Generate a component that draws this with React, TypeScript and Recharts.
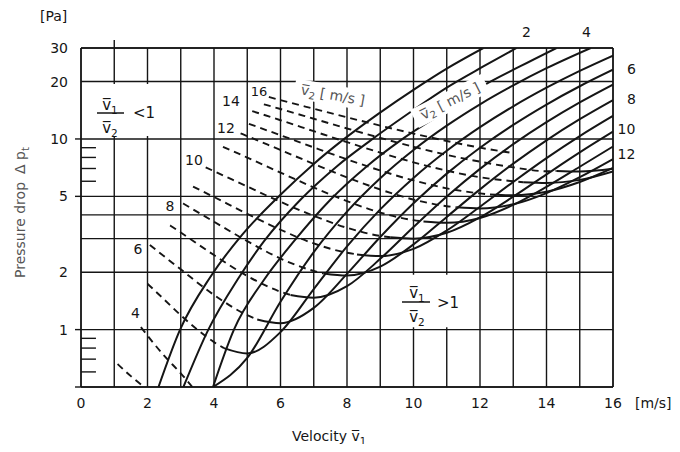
import React from "react";
import {
  LineChart,
  Line,
  XAxis,
  YAxis,
  CartesianGrid,
  ReferenceLine,
  ReferenceArea,
} from "recharts";

const FONT = "'DejaVu Sans', 'Liberation Sans', sans-serif";
const INK = "#151515";
const GREY = "#555";
const W = 664;
const H = 436;

// axis ticks
const v1Ticks = [0, 1, 2, 3, 4, 5, 6, 7, 8, 9, 10, 11, 12, 13, 14, 15, 16];
const v1Labels = [0, 2, 4, 6, 8, 10, 12, 14, 16];
const dpTicks = [0.5, 1, 2, 3, 4, 5, 10, 20, 30];
const dpLabels = [1, 2, 5, 10, 20, 30];
const dpMinor = [0.6, 0.7, 0.8, 0.9, 6, 7, 8, 9];
const dpTickMarks = [0.5, 1, 5, 10];

type P = [number, number];

// solid curves (v1 > v2), parameter v2 [m/s]
const solid1: P[] = [[2.33, 0.5], [2.98, 1], [3.9, 1.9], [4.85, 3.15], [6.0, 5.1], [7.0, 7.4], [7.85, 9.8], [8.93, 13.5], [10.1, 18.6], [11.0, 23.4], [12.1, 30]];
const solid2: P[] = [[3.08, 0.5], [3.83, 1], [4.7, 1.82], [5.5, 2.9], [6.6, 4.8], [7.7, 7.2], [8.7, 9.8], [9.9, 13.8], [11.0, 18.6], [12.1, 24], [13.1, 30]];
const solid3: P[] = [[3.97, 0.5], [4.6, 1], [5.5, 1.82], [6.4, 2.9], [7.5, 4.8], [8.6, 7.2], [9.6, 9.8], [10.9, 13.8], [12.0, 18.6], [13.2, 24], [14.3, 30]];
const solid4: P[] = [[3.97, 0.5], [5, 0.71], [6, 1.4], [7, 2.55], [8, 4.16], [9, 6.23], [10, 8.76], [11, 11.75], [12, 15.2], [13, 19.1], [14, 23.5], [15.33, 30]];
const solid5: P[] = [[4.3, 0.8], [5, 0.75], [6, 0.97], [7, 1.63], [8, 2.73], [9, 4.27], [10, 6.25], [11, 8.67], [12, 11.53], [13, 14.83], [14, 18.57], [15, 22.75], [16, 27.37]];
const solid6: P[] = [[5.3, 1.13], [6, 1.08], [7, 1.3], [8, 1.96], [9, 3.06], [10, 4.6], [11, 6.58], [12, 9.0], [13, 11.86], [14, 15.16], [15, 18.9], [16, 23.08]];
const solid7: P[] = [[6.3, 1.52], [7, 1.47], [8, 1.69], [9, 2.35], [10, 3.45], [11, 4.99], [12, 6.97], [13, 9.39], [14, 12.25], [15, 15.55], [16, 19.29]];
const solid8: P[] = [[7.3, 1.97], [8, 1.92], [9, 2.14], [10, 2.8], [11, 3.9], [12, 5.44], [13, 7.42], [14, 9.84], [15, 12.7], [16, 16.0]];
const solid9: P[] = [[8.3, 2.48], [9, 2.43], [10, 2.65], [11, 3.31], [12, 4.41], [13, 5.95], [14, 7.93], [15, 10.35], [16, 13.21]];
const solid10: P[] = [[9.3, 3.05], [10, 3.0], [11, 3.22], [12, 3.88], [13, 4.98], [14, 6.52], [15, 8.5], [16, 10.92]];
const solid11: P[] = [[10.3, 3.69], [11, 3.63], [12, 3.85], [13, 4.51], [14, 5.61], [15, 7.15], [16, 9.13]];
const solid12: P[] = [[11.3, 4.38], [12, 4.32], [13, 4.54], [14, 5.2], [15, 6.3], [16, 7.84]];
const solid13: P[] = [[12.3, 5.12], [13, 5.07], [14, 5.29], [15, 5.95], [16, 7.05]];
const solid14: P[] = [[13.3, 5.93], [14, 5.88], [15, 6.1], [16, 6.76]];
const solid15: P[] = [[14.3, 6.8], [15, 6.75], [16, 6.97]];

// dashed curves (v1 < v2)
const dashed3: P[] = [[1.1, 0.66], [1.5, 0.57], [1.9, 0.5]];
const dashed4: P[] = [[1.8, 1.03], [2.5, 0.73], [3.0, 0.59], [3.35, 0.5]];
const dashed5: P[] = [[2.0, 1.74], [2.5, 1.44], [3.0, 1.19], [3.5, 1.0], [4.0, 0.86], [4.3, 0.8]];
const dashed6: P[] = [[2.07, 2.78], [3, 2.07], [4, 1.52], [5, 1.19], [5.3, 1.13]];
const dashed7: P[] = [[2.68, 3.52], [3, 3.23], [4, 2.46], [5, 1.91], [6, 1.58], [6.3, 1.52]];
const dashed8: P[] = [[3.07, 4.59], [4, 3.68], [5, 2.91], [6, 2.36], [7, 2.03], [7.3, 1.97]];
const dashed9: P[] = [[3.37, 5.63], [4, 4.96], [5, 4.05], [6, 3.34], [7, 2.83], [8, 2.53], [8.3, 2.48]];
const dashed10: P[] = [[3.75, 7.1], [4, 6.78], [5, 5.63], [6, 4.68], [7, 3.95], [8, 3.42], [9, 3.1], [9.3, 3.05]];
const dashed11: P[] = [[4.27, 9.1], [5, 7.99], [6, 6.66], [7, 5.57], [8, 4.72], [9, 4.11], [10, 3.75], [10.3, 3.69]];
const dashed12: P[] = [[4.8, 10.7], [5, 10.35], [6, 8.75], [7, 7.4], [8, 6.29], [9, 5.43], [10, 4.81], [11, 4.44], [11.3, 4.38]];
const dashed13: P[] = [[5.05, 12.0], [6, 10.46], [7, 9.03], [8, 7.82], [9, 6.83], [10, 6.06], [11, 5.51], [12, 5.18], [12.3, 5.12]];
const dashed14: P[] = [[5.15, 14.0], [6, 12.54], [7, 10.98], [8, 9.62], [9, 8.48], [10, 7.54], [11, 6.82], [12, 6.3], [13, 6.0], [13.3, 5.93]];
const dashed15: P[] = [[5.5, 15.2], [6, 14.36], [7, 12.77], [8, 11.35], [9, 10.13], [10, 9.1], [11, 8.25], [12, 7.6], [13, 7.1], [14, 6.77], [14.3, 6.8]];
const dashed16: P[] = [[5.65, 16.6], [6, 15.98], [7, 14.4], [8, 12.99], [9, 11.75], [10, 10.67], [11, 9.76], [12, 9.0], [13, 8.43]];

const solidSeries = [solid1, solid2, solid3, solid4, solid5, solid6, solid7, solid8, solid9, solid10, solid11, solid12, solid13, solid14, solid15];
const dashedSeries = [dashed3, dashed4, dashed5, dashed6, dashed7, dashed8, dashed9, dashed10, dashed11, dashed12, dashed13, dashed14, dashed15, dashed16];

const toPts = (a: P[]) => a.map(([x, y]) => ({ x, y }));

const T = ({ x, y, children, size = 14, anchor = "middle", fill = INK }: any) => (
  <text x={x} y={y} fontSize={size} textAnchor={anchor} fill={fill} fontFamily={FONT}>
    {children}
  </text>
);

const VBar = ({ x, y, sub, size = 15 }: any) => (
  <text x={x} y={y} fontSize={size} textAnchor="middle" fill={INK} fontFamily={FONT}>
    {"v\u0305"}
    <tspan dy={4} fontSize={size * 0.7}>{sub}</tspan>
  </text>
);

const RotLabel = ({ cx, cy, angle, w }: any) => (
  <g transform={`translate(${cx} ${cy}) rotate(${angle})`}>
    <rect x={-w / 2} y={-10} width={w} height={20} fill="#fff" />
    <text x={0} y={5} fontSize={14} textAnchor="middle" fill={GREY} fontFamily={FONT}>
      {"v\u0305"}
      <tspan dy={3} fontSize={10}>2</tspan>
      <tspan dy={-3}> [ m/s ]</tspan>
    </text>
  </g>
);

export default function App() {
  return (
    <div style={{ position: "relative", width: W, height: H, background: "#fff" }}>
      <LineChart width={W} height={H} margin={{ top: 40, right: 59, bottom: 27, left: 0 }}>
        <CartesianGrid stroke={INK} strokeWidth={1.4} />
        <XAxis
          type="number"
          dataKey="x"
          domain={[0, 16]}
          ticks={v1Ticks}
          interval={0}
          allowDataOverflow
          tickFormatter={(v: number) => (v1Labels.includes(v) ? String(v) : "")}
          axisLine={{ stroke: INK, strokeWidth: 1.4 }}
          tickLine={false}
          tickSize={6}
          tickMargin={5}
          height={30}
          tick={{ fill: INK, fontSize: 14, fontFamily: FONT }}
        />
        <YAxis
          type="number"
          scale="log"
          domain={[0.5, 30]}
          ticks={dpTicks}
          interval={0}
          allowDataOverflow
          tickFormatter={(v: number) => (dpLabels.includes(v) ? String(v) : "")}
          axisLine={{ stroke: INK, strokeWidth: 1.4 }}
          tickLine={false}
          tickSize={6}
          tickMargin={7}
          width={73}
          tick={{ fill: INK, fontSize: 14, fontFamily: FONT }}
        />
        <ReferenceLine x={16} stroke={INK} strokeWidth={1.4} />
        <ReferenceLine y={30} stroke={INK} strokeWidth={1.4} />
        <ReferenceArea x1={0.1} x2={2.8} y1={10.35} y2={19.4} fill="#fff" fillOpacity={1} stroke="none" />
        <ReferenceArea x1={9.08} x2={11.92} y1={1.03} y2={1.94} fill="#fff" fillOpacity={1} stroke="none" />
        {dpMinor.map((d) => (
          <ReferenceLine key={"m" + d} segment={[{ x: 0, y: d }, { x: 0.45, y: d }]} stroke={INK} strokeWidth={1.4} />
        ))}
        {dpTickMarks.map((d) => (
          <ReferenceLine key={"t" + d} ifOverflow="visible" segment={[{ x: -0.18, y: d }, { x: 0, y: d }]} stroke={INK} strokeWidth={1.4} />
        ))}
        <ReferenceLine ifOverflow="visible" segment={[{ x: 1, y: 30 }, { x: 1, y: 33 }]} stroke={INK} strokeWidth={1.4} />
        {dashedSeries.map((d, i) => (
          <Line
            key={"d" + i}
            data={toPts(d)}
            dataKey="y"
            type="monotone"
            stroke={INK}
            strokeWidth={1.9}
            strokeDasharray="7 5"
            dot={false}
            activeDot={false}
            isAnimationActive={false}
          />
        ))}
        {solidSeries.map((d, i) => (
          <Line
            key={"s" + i}
            data={toPts(d)}
            dataKey="y"
            type="monotone"
            stroke={INK}
            strokeWidth={2}
            dot={false}
            activeDot={false}
            isAnimationActive={false}
          />
        ))}
      </LineChart>
      <svg
        width={W}
        height={H + 8}
        style={{ position: "absolute", left: 0, top: 0, pointerEvents: "none", overflow: "visible" }}
      >
        <T x={32} y={13} anchor="start">[Pa]</T>
        <T x={627} y={400} anchor="start">[m/s]</T>
        <text x={284} y={433} fontSize={14} fill={INK} fontFamily={FONT}>
          Velocity {"v\u0305"}
          <tspan dy={4} fontSize={10}>1</tspan>
        </text>
        <text transform="rotate(-90 17 270)" x={17} y={270} fontSize={14} fill={GREY} fontFamily={FONT}>
          Pressure drop
          <tspan dx={8}>Δ p</tspan>
          <tspan dy={4} fontSize={10}>t</tspan>
        </text>
        {/* v2 labels, solid curves */}
        <T x={518.5} y={29}>2</T>
        <T x={578.5} y={29}>4</T>
        <T x={623.5} y={66}>6</T>
        <T x={623.5} y={96}>8</T>
        <T x={618.5} y={126}>10</T>
        <T x={618.5} y={151}>12</T>
        {/* v2 labels, dashed curves */}
        <T x={127.5} y={309.5}>4</T>
        <T x={130} y={246}>6</T>
        <T x={162} y={203}>8</T>
        <T x={186} y={157}>10</T>
        <T x={218} y={124.5}>12</T>
        <T x={223} y={98}>14</T>
        <T x={251} y={88} size={13}>16</T>
        {/* ratio labels */}
        <VBar x={102} y={102} sub="1" />
        <line x1={89} x2={116} y1={105} y2={105} stroke={INK} strokeWidth={1.5} />
        <VBar x={102} y={125} sub="2" />
        <T x={125} y={110} anchor="start" size={15}>{"<1"}</T>
        <VBar x={409} y={290} sub="1" />
        <line x1={394} x2={422} y1={294} y2={294} stroke={INK} strokeWidth={1.5} />
        <VBar x={409} y={314} sub="2" />
        <T x={429} y={300} anchor="start" size={15}>{">1"}</T>
        <RotLabel cx={325} cy={87} angle={10} w={78} />
        <RotLabel cx={442} cy={93} angle={-27} w={80} />
      </svg>
    </div>
  );
}
